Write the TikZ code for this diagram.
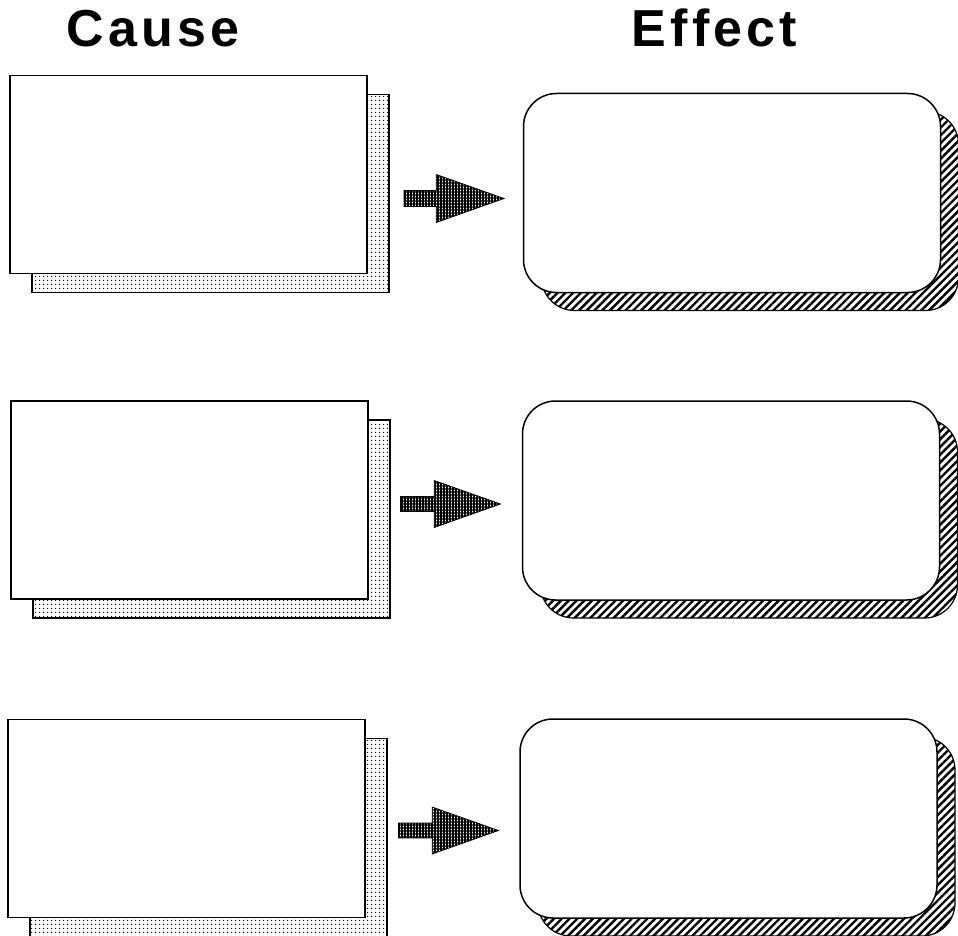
\documentclass[tikz,border=0pt]{standalone}
\usepackage{fontspec}
\newfontfamily\titlefont{Liberation Sans}[LetterSpace=8]
\usetikzlibrary{shapes.arrows,patterns.meta}

\begin{document}
\begin{tikzpicture}[x=1pt,y=-1pt,line width=1.5pt]
  \tikzstyle{cause}=[draw=black,fill=white,minimum width=357pt,minimum height=198pt,inner sep=0pt]
  \tikzstyle{causeshadow}=[cause,fill=none,line width=1.2pt,pattern={Dots[distance=4pt,radius=0.9pt]}]
  \tikzstyle{effect}=[cause,rounded corners=33pt,minimum width=417pt,minimum height=199pt]
  \tikzstyle{effectshadow}=[effect,fill=none,line width=1.2pt,pattern={Lines[angle=45,distance=5.5pt,line width=2.4pt]}]
  \tikzstyle{blockarrow}=[single arrow,anchor=tail,draw=black,line width=0.8pt,pattern={Hatch[angle=0,distance=3pt,line width=2pt]},
                          minimum height=100pt,text height=7pt,text depth=7pt,text width=0pt,
                          single arrow head extend=16pt,single arrow tip angle=39,inner sep=0pt]
  \tikzstyle{title}=[anchor=base west,inner sep=0pt,font=\titlefont\bfseries\fontsize{52}{60}\selectfont]
  \useasboundingbox (0,0) rectangle (958,936);

  \node[title] (cause) at (66,47) {Cause};
  \node[title] (effect) at (631,47) {Effect};

  \coordinate (C1) at (188.5,174.5);
  \coordinate (C2) at (189.5,500);
  \coordinate (C3) at (186.5,818.5);
  \coordinate (E1) at (732,193);
  \coordinate (E2) at (731,500.5);
  \coordinate (E3) at (728.5,818.5);

  \foreach \i in {1,2,3} {
    \node[causeshadow] (CS\i) at ([shift={(22,19)}]C\i) {};
    \node[cause] (CB\i) at (C\i) {};
    \node[effectshadow] (ES\i) at ([shift={(18,18)}]E\i) {};
    \node[effect] (EB\i) at (E\i) {};
  }

  \node[blockarrow] (A1) at (403,198.5) {};
  \node[blockarrow] (A2) at (400,504) {};
  \node[blockarrow] (A3) at (398,830.5) {};
\end{tikzpicture}
\end{document}
